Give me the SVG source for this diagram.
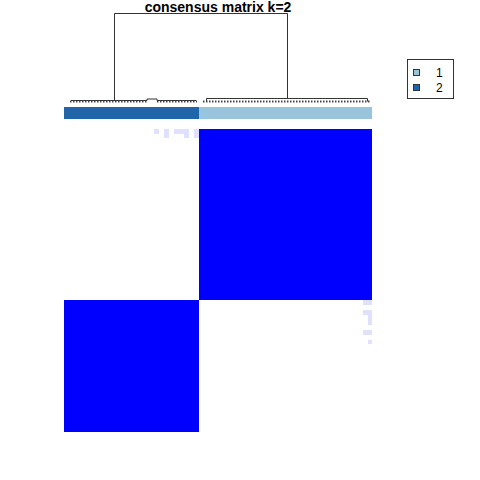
<svg xmlns="http://www.w3.org/2000/svg" width="480" height="480" viewBox="0 0 480 480">
<style>
.dend{fill:none;stroke:#333;stroke-width:1}
.leaf{fill:none;stroke:#444;stroke-width:2;stroke-dasharray:1.5 1.5}
.faint{fill:#E0E0FF}
.blk{fill:#0000FF}
.t{font-family:"Liberation Sans",Arial,sans-serif}
</style>
<rect width="480" height="480" fill="#fff"/>
<text class="t" x="218" y="11.5" text-anchor="middle" font-size="14" font-weight="bold">consensus matrix k=2</text>
<g id="dendrogram">
<path class="dend" d="M114.5,100 V13.5 H287.5 V98"/>
<path class="dend" d="M206.5,101.5 V98.5 H367.5 V101.5"/>
<path class="dend" d="M71,100.5 H147 V99 H157 V100.5 H196"/>
<path class="leaf" d="M70,101.5 H148"/>
<path class="leaf" d="M157,101.5 H197"/>
<path class="leaf" d="M203,101.5 H371"/>
</g>
<g id="annotation">
<rect x="64" y="107" width="135" height="12" fill="#2065A8"/>
<rect x="199" y="107" width="173" height="12" fill="#98C4DE"/>
</g>
<g id="matrix">
<rect class="blk" x="199" y="129" width="173" height="171"/>
<rect class="blk" x="64" y="300" width="135" height="132"/>
<rect class="faint" x="154" y="129" width="5" height="5"/>
<rect class="faint" x="164" y="129" width="5" height="9"/>
<rect class="faint" x="174" y="129" width="15" height="5"/>
<rect class="faint" x="184" y="134" width="5" height="4"/>
<rect class="faint" x="194" y="129" width="5" height="9"/>
<rect class="faint" x="363" y="300" width="9" height="5"/>
<rect class="faint" x="363" y="310" width="9" height="5"/>
<rect class="faint" x="368" y="315" width="4" height="10"/>
<rect class="faint" x="363" y="330" width="9" height="5"/>
<rect class="faint" x="368" y="340" width="4" height="4"/>
</g>
<g id="legend">
<rect x="407.5" y="59.5" width="46" height="39" fill="#fff" stroke="#333" stroke-width="1"/>
<rect x="413.5" y="69.5" width="6" height="6" fill="#98C4DE" stroke="#333" stroke-width="1"/>
<rect x="413.5" y="84.5" width="6" height="6" fill="#2065A8" stroke="#333" stroke-width="1"/>
<text class="t" x="436" y="77" font-size="12">1</text>
<text class="t" x="436" y="92" font-size="12">2</text>
</g>
</svg>
